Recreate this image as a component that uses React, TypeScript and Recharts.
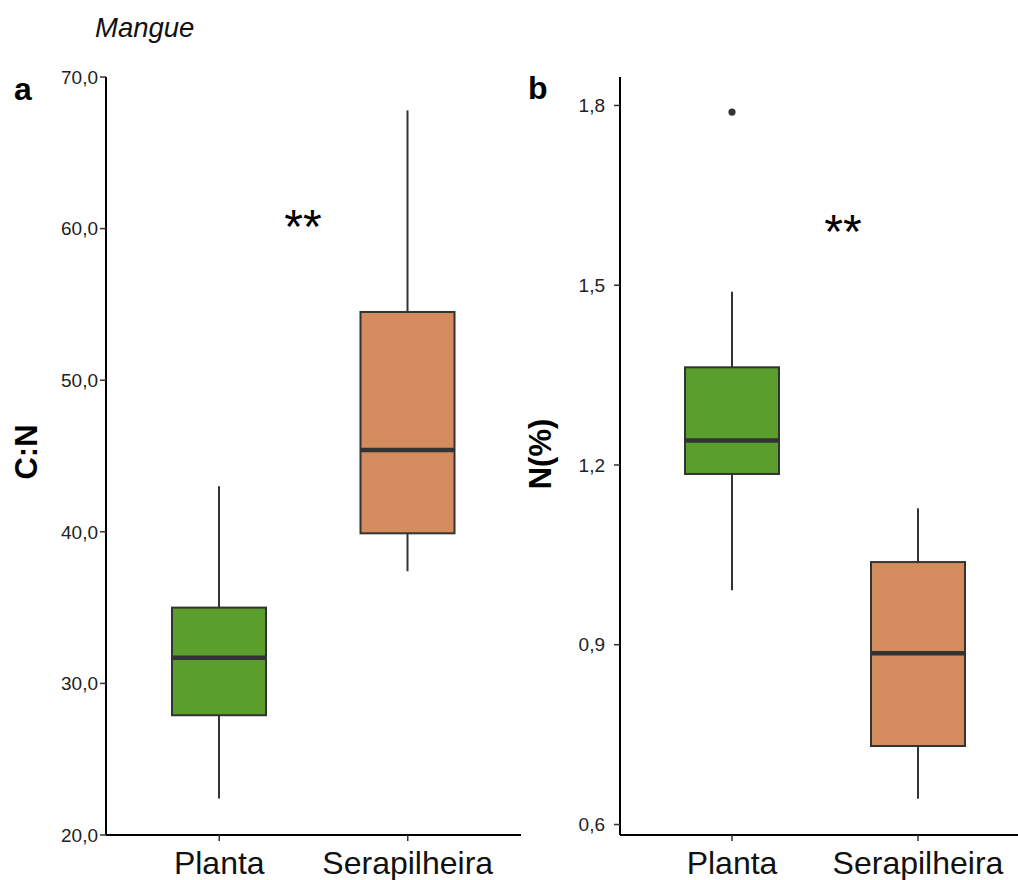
import React from "react";
import { ComposedChart, Bar, Scatter, XAxis, YAxis } from "recharts";

const categories = ["Planta", "Serapilheira"];

// Panel a: C:N
const cnMin = [22.4, 37.4];
const cnQ1 = [27.9, 39.9];
const cnMedian = [31.7, 45.4];
const cnQ3 = [35.0, 54.5];
const cnMax = [43.0, 67.8];
const cnOutliers: (number | null)[] = [null, null];
const cnTicks = [20, 30, 40, 50, 60, 70];

// Panel b: N(%)
const nMin = [0.991, 0.643];
const nQ1 = [1.185, 0.731];
const nMedian = [1.241, 0.886];
const nQ3 = [1.363, 1.038];
const nMax = [1.489, 1.128];
const nOutliers: (number | null)[] = [1.789, null];
const nTicks = [0.6, 0.9, 1.2, 1.5, 1.8];

const boxColors = ["#5A9E2E", "#D48C5E"];
const FONT = "'Liberation Sans', Arial, sans-serif";

function buildRows(min: number[], q1: number[], med: number[], q3: number[], max: number[], out: (number | null)[]) {
  return categories.map((name, i) => ({
    name,
    min: min[i],
    q1: q1[i],
    median: med[i],
    q3: q3[i],
    max: max[i],
    outlier: out[i],
    color: boxColors[i],
  }));
}

const cnData = buildRows(cnMin, cnQ1, cnMedian, cnQ3, cnMax, cnOutliers);
const nData = buildRows(nMin, nQ1, nMedian, nQ3, nMax, nOutliers);

const BoxShape = (props: any) => {
  const { x, width, payload } = props;
  let y = props.y;
  let height = props.height;
  if (height < 0) {
    y = y + height;
    height = -height;
  }
  const lo = payload.q1;
  const hi = payload.q3;
  const k = height / (hi - lo);
  const py = (v: number) => y + (hi - v) * k;
  const cx = x + width / 2;
  const ym = py(payload.median);
  return (
    <g>
      <line x1={cx} x2={cx} y1={py(payload.max)} y2={y} stroke="#333333" strokeWidth={2} />
      <line x1={cx} x2={cx} y1={y + height} y2={py(payload.min)} stroke="#333333" strokeWidth={2} />
      <rect x={x} y={y} width={width} height={height} fill={payload.color} stroke="#333333" strokeWidth={2} />
      <line x1={x} x2={x + width} y1={ym} y2={ym} stroke="#333333" strokeWidth={4.5} />
    </g>
  );
};

const OutlierShape = (props: any) => {
  const { cx, cy, payload } = props;
  if (payload == null || payload.outlier == null || !isFinite(cy)) return <g />;
  return <circle cx={cx} cy={cy} r={3.6} fill="#333333" />;
};

const fmt = (v: number) => v.toFixed(1).replace(".", ",");

function Panel({ data, domain, ticks, width, marginLeft, marginRight, tickMargin, tickFont }: any) {
  return (
    <ComposedChart
      width={width}
      height={880}
      data={data}
      margin={{ top: 77, right: marginRight, bottom: 0, left: marginLeft }}
    >
      <XAxis
        dataKey="name"
        type="category"
        padding={{ left: 19, right: 19 }}
        height={45}
        axisLine={{ stroke: "#000000", strokeWidth: 2 }}
        tickLine={{ stroke: "#333333", strokeWidth: 1.5 }}
        tickSize={6}
        tickMargin={10}
        tick={{ fill: "#111111", fontSize: 32, fontFamily: FONT }}
        interval={0}
      />
      <YAxis
        type="number"
        domain={domain}
        ticks={ticks}
        allowDataOverflow
        width={60}
        tickFormatter={fmt}
        axisLine={{ stroke: "#000000", strokeWidth: 2 }}
        tickLine={{ stroke: "#333333", strokeWidth: 1.5 }}
        tickSize={6}
        tickMargin={tickMargin}
        tick={{ fill: "#222222", fontSize: tickFont, fontFamily: FONT }}
      />
      <Bar
        dataKey={(d: any) => [d.q1, d.q3]}
        barSize={94}
        shape={BoxShape}
        isAnimationActive={false}
      />
      <Scatter dataKey="outlier" shape={OutlierShape} isAnimationActive={false} />
    </ComposedChart>
  );
}

export default function App() {
  return (
    <div
      style={{
        position: "absolute",
        left: 0,
        top: 0,
        width: 1018,
        height: 880,
        overflow: "hidden",
        background: "#ffffff",
      }}
    >
      <div style={{ position: "absolute", left: 0, top: 0 }}>
        <Panel
          data={cnData}
          domain={[20, 70]}
          ticks={cnTicks}
          width={540}
          marginLeft={46}
          marginRight={19}
          tickMargin={2}
          tickFont={19}
        />
      </div>
      <div style={{ position: "absolute", left: 520, top: 0 }}>
        <Panel
          data={nData}
          domain={[0.5825, 1.8475]}
          ticks={nTicks}
          width={530}
          marginLeft={40}
          marginRight={20}
          tickMargin={9}
          tickFont={19}
        />
      </div>
      <svg
        width={1018}
        height={880}
        style={{ position: "absolute", left: 0, top: 0, pointerEvents: "none" }}
      >
        <text x={95} y={37} fontSize={27.5} fontStyle="italic" fontFamily={FONT} fill="#111111">
          Mangue
        </text>
        <text x={14} y={100} fontSize={32} fontWeight="bold" fontFamily={FONT} fill="#000000">
          a
        </text>
        <text x={528} y={99} fontSize={32} fontWeight="bold" fontFamily={FONT} fill="#000000">
          b
        </text>
        <text
          x={37}
          y={452}
          fontSize={31}
          fontWeight="bold"
          fontFamily={FONT}
          fill="#000000"
          textAnchor="middle"
          transform="rotate(-90 37 452)"
        >
          C:N
        </text>
        <text
          x={551}
          y={454}
          fontSize={31}
          fontWeight="bold"
          fontFamily={FONT}
          fill="#000000"
          textAnchor="middle"
          transform="rotate(-90 551 454)"
        >
          N(%)
        </text>
        <text x={303} y={243} fontSize={48} fontFamily={FONT} fill="#000000" textAnchor="middle">
          **
        </text>
        <text x={843} y={248} fontSize={48} fontFamily={FONT} fill="#000000" textAnchor="middle">
          **
        </text>
      </svg>
    </div>
  );
}
